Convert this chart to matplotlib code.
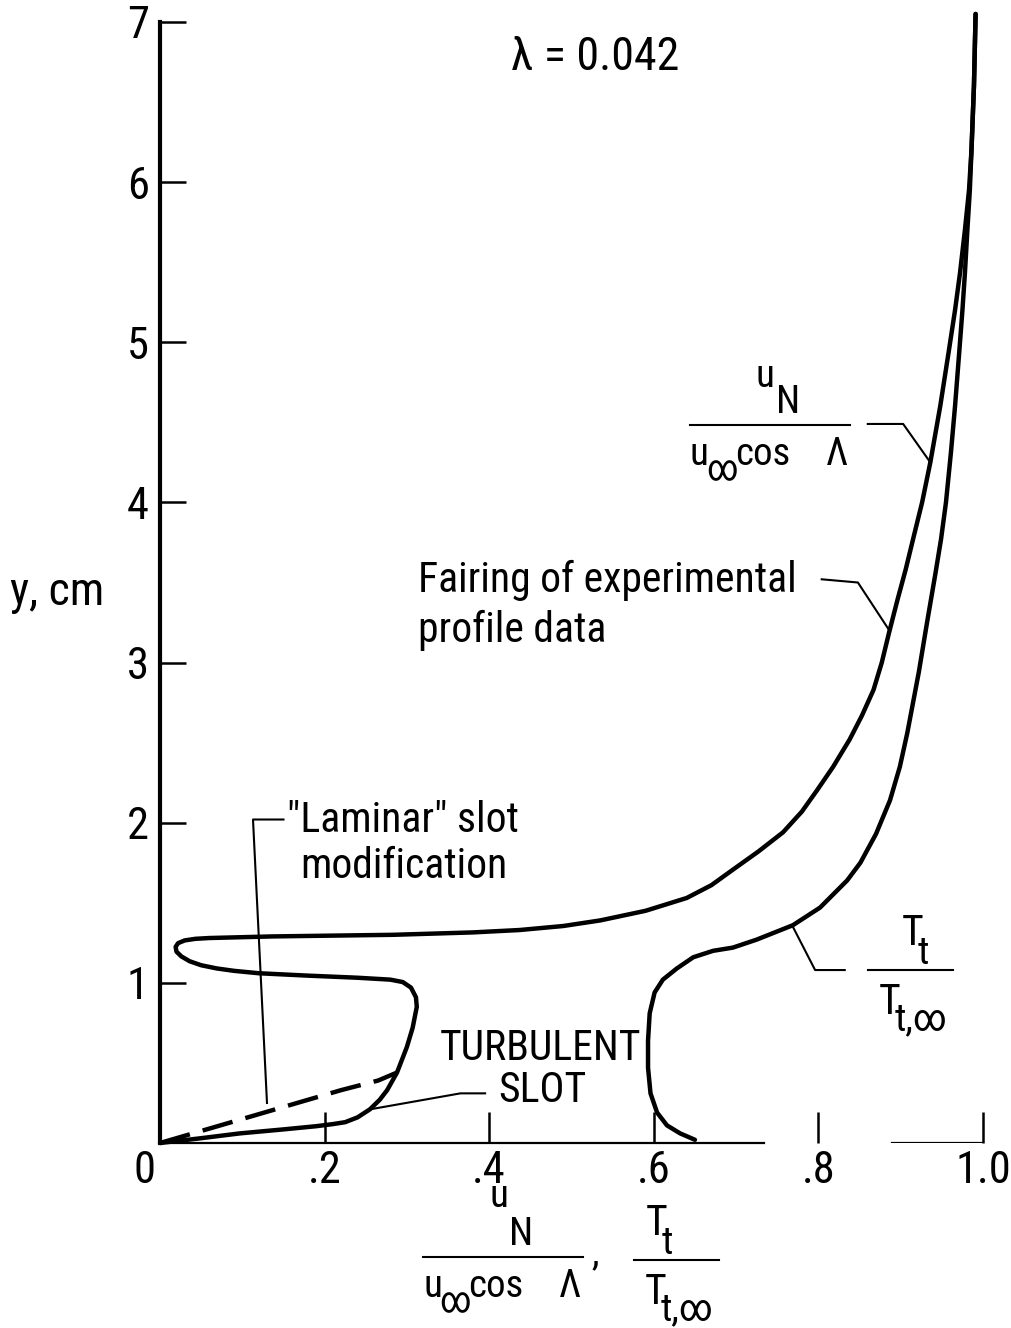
import matplotlib
matplotlib.use("Agg")
import matplotlib.pyplot as plt
import matplotlib.transforms as mtransforms
from matplotlib.lines import Line2D
from matplotlib import font_manager

# u_N / (u_inf cos L) profile, turbulent slot (solid)
u_turb_x = [0.000, 0.050, 0.097, 0.150, 0.190, 0.210, 0.225, 0.240, 0.255, 0.267,
            0.276, 0.288, 0.300, 0.307, 0.312, 0.311, 0.305, 0.295, 0.280, 0.240,
            0.180, 0.120, 0.090, 0.069, 0.050, 0.036, 0.026, 0.020, 0.019, 0.022,
            0.030, 0.043, 0.060, 0.137, 0.283, 0.380, 0.437, 0.490, 0.535, 0.590,
            0.640, 0.670, 0.697, 0.727, 0.757, 0.780, 0.798, 0.818, 0.838, 0.853,
            0.867, 0.877, 0.886, 0.896, 0.906, 0.915, 0.926, 0.936, 0.948, 0.958,
            0.966, 0.972, 0.978, 0.983, 0.986, 0.989, 0.991]
u_turb_y = [0.000, 0.030, 0.060, 0.085, 0.105, 0.118, 0.130, 0.160, 0.210, 0.270,
            0.330, 0.440, 0.600, 0.720, 0.850, 0.910, 0.970, 1.005, 1.020, 1.032,
            1.045, 1.060, 1.075, 1.090, 1.110, 1.135, 1.165, 1.195, 1.225, 1.248,
            1.265, 1.275, 1.280, 1.290, 1.300, 1.315, 1.330, 1.355, 1.390, 1.450,
            1.530, 1.610, 1.710, 1.820, 1.940, 2.070, 2.200, 2.350, 2.520, 2.670,
            2.830, 3.000, 3.190, 3.390, 3.580, 3.770, 4.000, 4.250, 4.600, 4.930,
            5.200, 5.430, 5.700, 5.950, 6.200, 6.600, 7.050]

# "laminar" slot modification (dashed), joins the solid profile
u_lam_x = [0.000, 0.060, 0.140, 0.220, 0.265, 0.288]
u_lam_y = [0.000, 0.090, 0.210, 0.330, 0.390, 0.440]

# T_t / T_t,inf profile
tt_x = [0.650, 0.632, 0.616, 0.604, 0.596, 0.593, 0.593, 0.595, 0.601, 0.611,
        0.628, 0.648, 0.672, 0.696, 0.725, 0.769, 0.802, 0.835, 0.851, 0.870,
        0.887, 0.899, 0.908, 0.915, 0.922, 0.932, 0.942, 0.949, 0.955, 0.961,
        0.966, 0.971, 0.975, 0.978, 0.981, 0.984, 0.986, 0.989, 0.991]
tt_y = [0.020, 0.060, 0.110, 0.190, 0.310, 0.470, 0.640, 0.810, 0.940, 1.020,
        1.090, 1.160, 1.200, 1.220, 1.270, 1.360, 1.470, 1.640, 1.750, 1.930,
        2.140, 2.350, 2.560, 2.750, 2.940, 3.250, 3.550, 3.770, 4.000, 4.310,
        4.600, 4.930, 5.200, 5.430, 5.700, 5.950, 6.200, 6.600, 7.050]

x_ticks = [0, 0.2, 0.4, 0.6, 0.8, 1.0]
x_labels = ['0', '.2', '.4', '.6', '.8', '1.0']
y_ticks = [1, 2, 3, 4, 5, 6, 7]
y_labels = ['1', '2', '3', '4', '5', '6', '7']


def pick_narrow_font():
    prefer = ['Liberation Sans Narrow', 'Roboto Condensed', 'Roboto', 'Noto Sans',
              'Open Sans', 'DejaVu Sans', 'Lato', 'Inter']
    narrow = {f.name for f in font_manager.fontManager.ttflist
              if 'condensed' in str(f.stretch) and f.style == 'normal'}
    for name in prefer:
        if name in narrow:
            return name, 'condensed', 1.0
    return 'Liberation Sans', 'normal', 0.85


FONT, STRETCH, SCALE = pick_narrow_font()
plt.rcParams['font.family'] = [FONT, 'DejaVu Sans']
plt.rcParams['font.stretch'] = STRETCH

W, H = 1011, 1328
fig = plt.figure(figsize=(W / 100, H / 100), dpi=100)
ax = fig.add_axes([160 / W, (H - 1143) / H, 823 / W, 1121 / H])
ax.set_xlim(0, 1)
ax.set_ylim(0, 7)

# layout positions in output pixels, origin at top-left
PIX = mtransforms.Affine2D().scale(1, -1).translate(0, H)

LW = 3.2
ax.plot(u_turb_x, u_turb_y, color='k', lw=LW, solid_capstyle='round',
        solid_joinstyle='round', clip_on=False)
ax.plot(u_lam_x, u_lam_y, color='k', lw=LW, dashes=(7, 3), clip_on=False)
ax.plot(tt_x, tt_y, color='k', lw=LW, solid_capstyle='round',
        solid_joinstyle='round', clip_on=False)

# axes frame
for side in ('top', 'right'):
    ax.spines[side].set_visible(False)
ax.spines['left'].set_linewidth(3)
ax.spines['bottom'].set_linewidth(1.6)
ax.spines['bottom'].set_bounds(0, 0.734)
ax.axhline(0, 0.89, 1.0, color='k', lw=1.6)

ax.set_xticks(x_ticks)
ax.set_xticklabels(x_labels)
ax.set_yticks(y_ticks)
ax.set_yticklabels(y_labels)
ax.tick_params(axis='y', direction='in', length=19, width=1.8, pad=8, labelsize=32 * SCALE)
ax.tick_params(axis='x', direction='in', length=22, width=1.8, pad=5, labelsize=32 * SCALE)
zero = ax.get_xticklabels()[0]
zero.set_transform(zero.get_transform() + mtransforms.ScaledTranslation(-0.15, 0, fig.dpi_scale_trans))

# leader lines
lead = dict(color='k', lw=1.5, clip_on=False)
ax.plot([0.804, 0.848, 0.885], [3.52, 3.50, 3.21], **lead)
ax.plot([0.860, 0.903, 0.936], [4.49, 4.49, 4.25], **lead)
ax.plot([0.832, 0.796, 0.769], [1.08, 1.08, 1.35], **lead)
ax.plot([0.150, 0.113, 0.130], [2.02, 2.02, 0.25], **lead)
ax.plot([0.395, 0.365, 0.255], [0.31, 0.31, 0.21], **lead)


# plain labels
def label(x, y, s, size=30, **kw):
    fig.text(x, y, s, transform=PIX, fontsize=size * SCALE, **kw)


label(595, 57, 'λ = 0.042', size=33, ha='center', va='center')
label(10, 592, 'y, cm', size=33, ha='left', va='center')
label(418, 580, 'Fairing of experimental', ha='left', va='center')
label(418, 630, 'profile data', ha='left', va='center')
label(287, 820, '"Laminar" slot', ha='left', va='center')
label(300, 866, 'modification', ha='left', va='center')
label(540, 1048, 'TURBULENT', ha='center', va='center')
label(542, 1090, 'SLOT', ha='center', va='center')


# stacked ratio labels: pieces placed by left edge / baseline
def bar(x0, x1, y):
    fig.add_artist(Line2D([x0, x1], [y, y], transform=PIX, color='k', lw=1.5))


def piece(x, y, s, size=28):
    fig.text(x, y, s, transform=PIX, fontsize=size * SCALE, ha='left', va='baseline')


def u_ratio(L, B, num_rise):
    piece(L + 66, B - num_rise, 'u')
    piece(L + 86, B - 12, 'N')
    bar(L, L + 160, B)
    piece(L, B + 40, 'u')
    piece(L + 16, B + 55, '∞', 26)
    piece(L + 45, B + 40, 'cos')
    piece(L + 136, B + 40, 'Λ')


def t_ratio(L, B, dx):
    piece(L + dx, B - 25, 'T', 30)
    piece(L + dx + 16, B - 6, 't', 28)
    bar(L, L + 85, B)
    piece(L + 11, B + 44, 'T', 30)
    piece(L + 27, B + 60, 't,∞', 28)


u_ratio(690, 425, 38)
t_ratio(868, 970, 34)
u_ratio(423, 1257, 50)
piece(591, 1264, ',')
t_ratio(634, 1260, 12)

fig.savefig('out.png', dpi=100)
